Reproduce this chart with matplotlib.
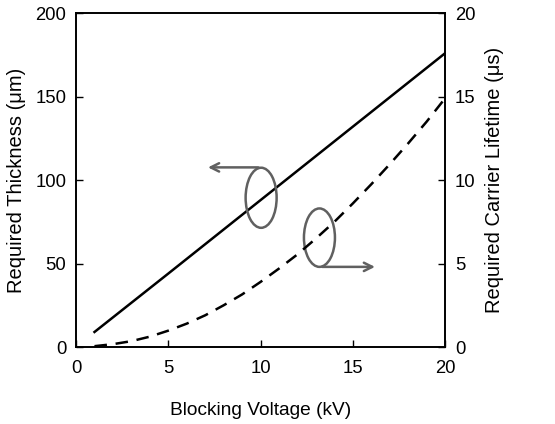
import matplotlib
matplotlib.use("Agg")
import matplotlib.pyplot as plt
from matplotlib.patches import Ellipse

plt.rcParams["font.family"] = ["Liberation Sans", "DejaVu Sans"]

# blocking voltage (kV)
voltage_thk = [1, 5, 10, 15, 20]
thickness = [9, 44, 88, 132, 176]  # um

voltage_life = [1, 2, 3, 4, 5, 6, 7, 8, 9, 10, 11, 12, 13, 14, 15, 16, 17, 18, 19, 20]
lifetime = [0.05, 0.17, 0.35, 0.62, 0.98, 1.4, 1.9, 2.5, 3.15, 3.9,
            4.7, 5.55, 6.5, 7.5, 8.6, 9.75, 10.95, 12.2, 13.5, 14.9]  # us

fig = plt.figure(figsize=(5.55, 4.24), dpi=100)
ax = fig.add_axes([0.137, 0.1816, 0.665, 0.7874])
ax2 = ax.twinx()

ax.plot(voltage_thk, thickness, color="black", lw=1.8)
ax2.plot(voltage_life, lifetime, color="black", lw=1.8, ls=(0, (5, 3.5)))

ax.set_xlim(0, 20)
ax.set_ylim(0, 200)
ax2.set_ylim(0, 20)
ax.set_xticks([0, 5, 10, 15, 20])
ax.set_yticks([0, 50, 100, 150, 200])
ax2.set_yticks([0, 5, 10, 15, 20])

for a in (ax, ax2):
    a.tick_params(direction="in", length=5, width=1, labelsize=13.3, pad=7)
    for s in a.spines.values():
        s.set_linewidth(1.2)
ax.tick_params(axis="x", pad=9)

ax.set_xlabel("Blocking Voltage (kV)", fontsize=13.8, labelpad=18)
ax.set_ylabel("Required Thickness (\u03bcm)", fontsize=14.5, labelpad=7)
ax2.set_ylabel("Required Carrier Lifetime (\u03bcs)", fontsize=14.5, labelpad=7)

grey = "#606060"
ax.add_patch(Ellipse((10.03, 89.4), 1.68, 36, fill=False, ec=grey, lw=1.8, zorder=5))
ax.add_patch(Ellipse((13.19, 65.5), 1.68, 35, fill=False, ec=grey, lw=1.8, zorder=5))
ax.annotate("", xy=(7.0, 107.6), xytext=(10.03, 107.6),
            arrowprops=dict(arrowstyle="->,head_length=0.6,head_width=0.3", color=grey, lw=1.8))
ax.annotate("", xy=(16.35, 48.0), xytext=(13.19, 48.0),
            arrowprops=dict(arrowstyle="->,head_length=0.6,head_width=0.3", color=grey, lw=1.8))

fig.savefig("out.png", dpi=100)
